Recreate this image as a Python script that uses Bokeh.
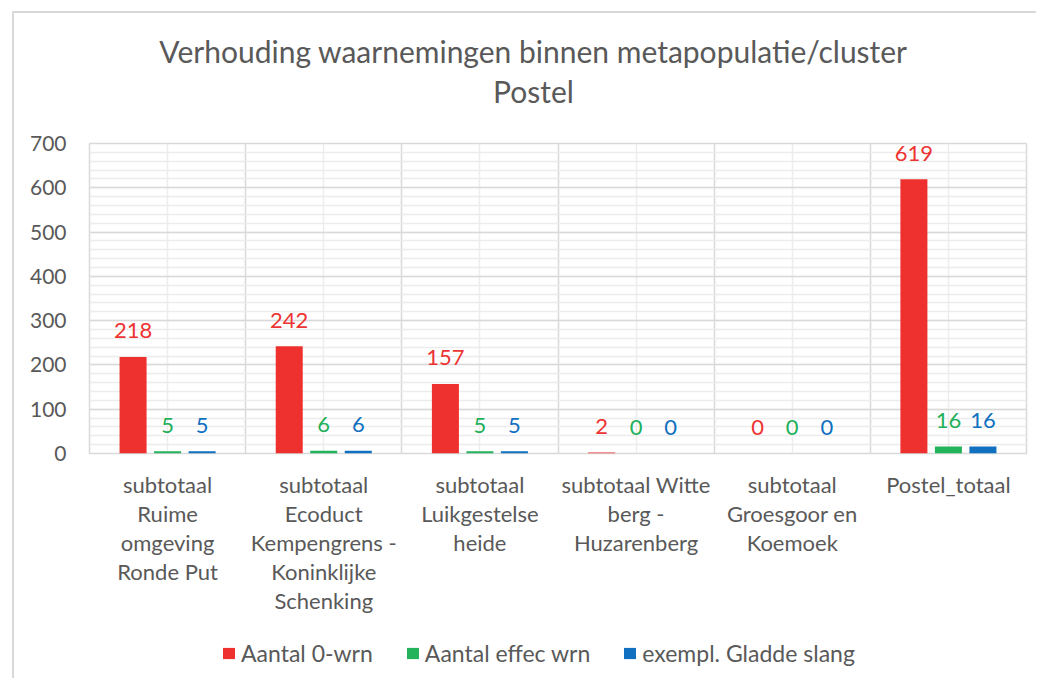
import numpy as np
from bokeh.plotting import figure
from bokeh.layouts import column
from bokeh.models import (ColumnDataSource, FixedTicker, Range1d, Legend,
                          LegendItem, Label, InlineStyleSheet, CDSView,
                          IndexFilter)
from bokeh.transform import dodge
from bokeh.core.properties import value
from bokeh.embed import file_html
from bokeh.resources import INLINE

# ---------------- data ----------------
categories = [
    "subtotaal\nRuime\nomgeving\nRonde Put",
    "subtotaal\nEcoduct\nKempengrens -\nKoninklijke\nSchenking",
    "subtotaal\nLuikgestelse\nheide",
    "subtotaal Witte\nberg -\nHuzarenberg",
    "subtotaal\nGroesgoor en\nKoemoek",
    "Postel_totaal",
]
series_names = ["Aantal 0-wrn", "Aantal effec wrn", "exempl. Gladde slang"]
aantal_0_wrn = [218, 242, 157, 2, 0, 619]
aantal_effec_wrn = [5, 6, 5, 0, 0, 16]
exempl_gladde_slang = [5, 6, 5, 0, 0, 16]
y_ticks = [0, 100, 200, 300, 400, 500, 600, 700]
title_lines = ["Verhouding waarnemingen binnen metapopulatie/cluster", "Postel"]

# ---------------- styles ----------------
bar_colors = ["#EE312E", "#22B35B", "#1170C0"]
label_colors = ["#EE3333", "#22B05A", "#1170C0"]
text_gray = "#595959"
FONT = "Lato"
W = 1036
BL, BR = 89, 10          # frame borders shared by all stacked figures


def blank(height):
    f = figure(width=W, height=height, x_range=Range1d(BL, W - BR),
               y_range=Range1d(height, 0), output_backend="svg",
               toolbar_location=None, x_axis_location=None,
               y_axis_location=None, title_location=None,
               min_border_left=BL, min_border_right=BR,
               min_border_top=0, min_border_bottom=0)
    f.outline_line_color = None
    f.grid.visible = False
    f.background_fill_color = None
    f.border_fill_color = None
    return f


# ---------------- title strip ----------------
TH = 120
pt = blank(TH)
for txt, yb in zip(title_lines, [50, 90]):
    pt.add_layout(Label(x=533, y=yb, text=txt, text_align="center",
                        text_baseline="alphabetic", text_font=FONT,
                        text_font_size="30px", text_color=text_gray))

# ---------------- main chart ----------------
n = len(categories)
centers = [i + 0.5 for i in range(n)]
MH = 520
p = figure(width=W, height=MH,
           x_range=Range1d(0, n), y_range=Range1d(0, 700),
           output_backend="svg", toolbar_location=None,
           min_border_left=BL, min_border_right=BR,
           min_border_top=143 - TH, min_border_bottom=TH + MH - 453)
p.background_fill_color = "white"
p.border_fill_color = None
p.outline_line_color = "#d9d9d9"
p.outline_line_width = 1.5

p.xgrid.ticker = FixedTicker(ticks=list(range(n + 1)), minor_ticks=centers)
p.xgrid.grid_line_color = "#d9d9d9"
p.xgrid.grid_line_width = 1.5
p.xgrid.minor_grid_line_color = "#ececec"
p.xgrid.minor_grid_line_width = 1.5
p.ygrid.ticker = FixedTicker(ticks=y_ticks, minor_ticks=list(range(0, 701, 20)))
p.ygrid.grid_line_color = "#d9d9d9"
p.ygrid.grid_line_width = 1.5
p.ygrid.minor_grid_line_color = "#ececec"
p.ygrid.minor_grid_line_width = 1.5

p.yaxis.ticker = FixedTicker(ticks=y_ticks)
p.yaxis.axis_line_color = None
p.yaxis.major_tick_line_color = None
p.yaxis.minor_tick_line_color = None
p.yaxis.major_tick_out = 0
p.yaxis.major_label_standoff = 23
p.yaxis.major_label_text_font = FONT
p.yaxis.major_label_text_font_size = "21px"
p.yaxis.major_label_text_color = text_gray

p.xaxis.ticker = FixedTicker(ticks=centers)
p.xaxis.major_label_overrides = {c: lab for c, lab in zip(centers, categories)}
p.xaxis.axis_line_color = None
p.xaxis.major_tick_line_color = None
p.xaxis.minor_tick_line_color = None
p.xaxis.major_tick_out = 0
p.xaxis.major_label_standoff = 17
p.xaxis.major_label_text_font = FONT
p.xaxis.major_label_text_font_size = "22px"
p.xaxis.major_label_text_color = text_gray
p.xaxis.major_label_text_line_height = 1.08

series = [aantal_0_wrn, aantal_effec_wrn, exempl_gladde_slang]
offsets = [-0.221, 0.0, 0.221]
sources = []
for vals, off, bc, lc in zip(series, offsets, bar_colors, label_colors):
    src = ColumnDataSource(dict(x=centers, v=vals, lab=[str(v) for v in vals]))
    sources.append(src)
    p.vbar(x=dodge("x", off, range=p.x_range), top="v", width=0.173,
           bottom=0, source=src, fill_color=bc, line_color=None)
    p.text(x=dodge("x", off, range=p.x_range), y="v", text="lab", source=src,
           text_align="center", text_baseline="middle", y_offset=-26,
           text_font=value(FONT), text_font_size="22px", text_color=lc)

# ---------------- legend strip ----------------
# The renderers here only supply the legend swatches: the view keeps one
# zero-height row whose category-unit x lies outside this strip's frame.
LH = 686 - 8 - TH - MH
pl = blank(LH)
zero_row = [min(range(n), key=lambda i: sum(s[i] for s in series))]
items = []
for name, bc, src in zip(series_names, bar_colors, sources):
    r = pl.vbar(x="x", top="v", width=0.173, source=src,
                view=CDSView(filter=IndexFilter(indices=zero_row)),
                fill_color=bc, line_color=None)
    items.append(LegendItem(label=name, renderers=[r]))
legend = Legend(items=items, orientation="horizontal", location=(221 - BL, 11),
                glyph_width=15, glyph_height=14, label_standoff=5, spacing=32,
                padding=0, margin=0, border_line_color=None,
                background_fill_alpha=0, label_text_font=FONT,
                label_text_font_size="23px", label_text_color=text_gray,
                label_height=20)
pl.add_layout(legend, "center")

layout = column(pt, p, pl, spacing=0)
layout.stylesheets = [InlineStyleSheet(css="""
:host { position: relative; }
:host::after {
  content: "";
  position: absolute;
  left: 12px; top: 11px; right: 0px; bottom: 0px;
  border-left: 2px solid #d9d9d9;
  border-top: 2px solid #d9d9d9;
  pointer-events: none;
  z-index: 10;
}
""")]

open("out.html", "w").write(file_html(layout, INLINE))
